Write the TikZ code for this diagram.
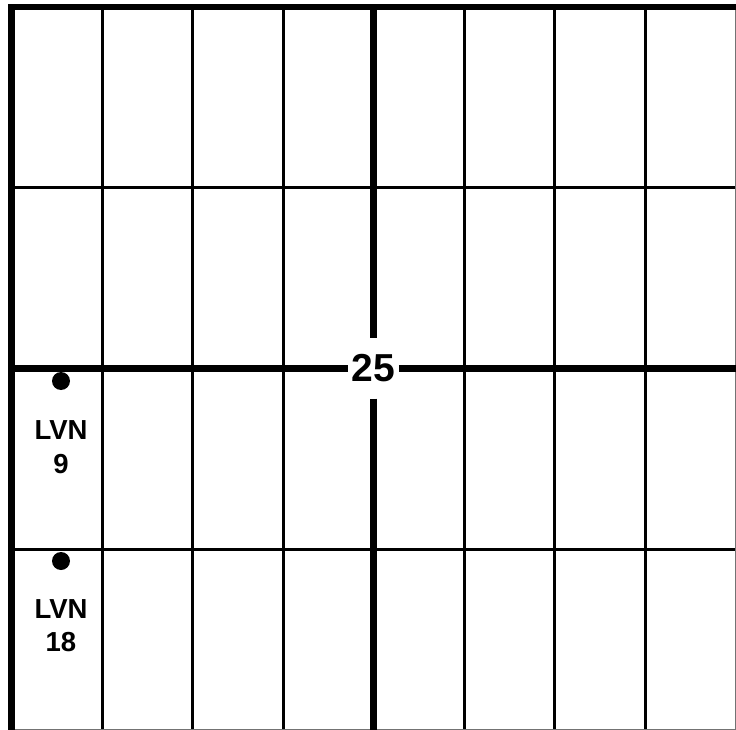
\documentclass[tikz,border=0pt]{standalone}
\usepackage{fontspec}
\setmainfont{Liberation Sans}
\begin{document}
\begin{tikzpicture}[x=1pt, y=1pt]
    % --- Configuration ---
    \def\xO{11.5}      % Left edge of the grid
    \def\yO{-7}        % Top edge of the grid
    \def\colW{90.5}    % Width of each column
    \def\rowH{-180.75} % Height of each row (negative for downward growth)
    \def\xEnd{736}
    \def\yEnd{-730}
    \tikzset{
        gridline/.style={line width=3pt},
        mainline/.style={line width=6.5pt},
        marker/.style={circle, fill=black, inner sep=0pt, minimum size=18pt},
        lvnlabel/.style={align=center, font=\fontsize{27.5}{33.5}\selectfont\bfseries},
    }

    \useasboundingbox (0,0) rectangle (\xEnd,\yEnd);

    % --- Thin grid lines ---
    % Horizontal lines
    \foreach \i in {1,3} {
        \draw[gridline] (\xO, {\yO + \i * \rowH}) -- (\xEnd, {\yO + \i * \rowH});
    }
    % Vertical lines (skipping the thick one in the middle)
    \foreach \j in {1,2,3,5,6,7} {
        \draw[gridline] ({\xO + \j * \colW}, \yO) -- ({\xO + \j * \colW}, \yEnd);
    }
    % Right and bottom edges
    \draw[line width=1pt, black!55] (735.5, \yO) -- (735.5, -729.5) -- (\xO, -729.5);

    % --- Centre label ---
    \node[inner xsep=3.5pt, inner ysep=16pt, font=\fontsize{39}{39}\selectfont\bfseries]
        (centre) at ({\xO + 4 * \colW}, {\yO + 2 * \rowH}) {25};

    % --- Thick lines ---
    \draw[mainline] (\xO, \yEnd) -- (\xO, \yO) -- (\xEnd, \yO); % Outer border
    \draw[mainline] ({\xO + 4 * \colW}, \yO) -- (centre.north);
    \draw[mainline] (centre.south) -- ({\xO + 4 * \colW}, \yEnd);
    \draw[mainline] (\xO, {\yO + 2 * \rowH}) -- (centre.west);
    \draw[mainline] (centre.east) -- (\xEnd, {\yO + 2 * \rowH});

    % --- Markers ---
    \node[marker] (dot9) at (61, -381) {};
    \node[lvnlabel] (lvn9) at (61, -447) {LVN\\9};

    \node[marker] (dot18) at (61, -561) {};
    \node[lvnlabel] (lvn18) at (61, -625.5) {LVN\\18};
\end{tikzpicture}
\end{document}
